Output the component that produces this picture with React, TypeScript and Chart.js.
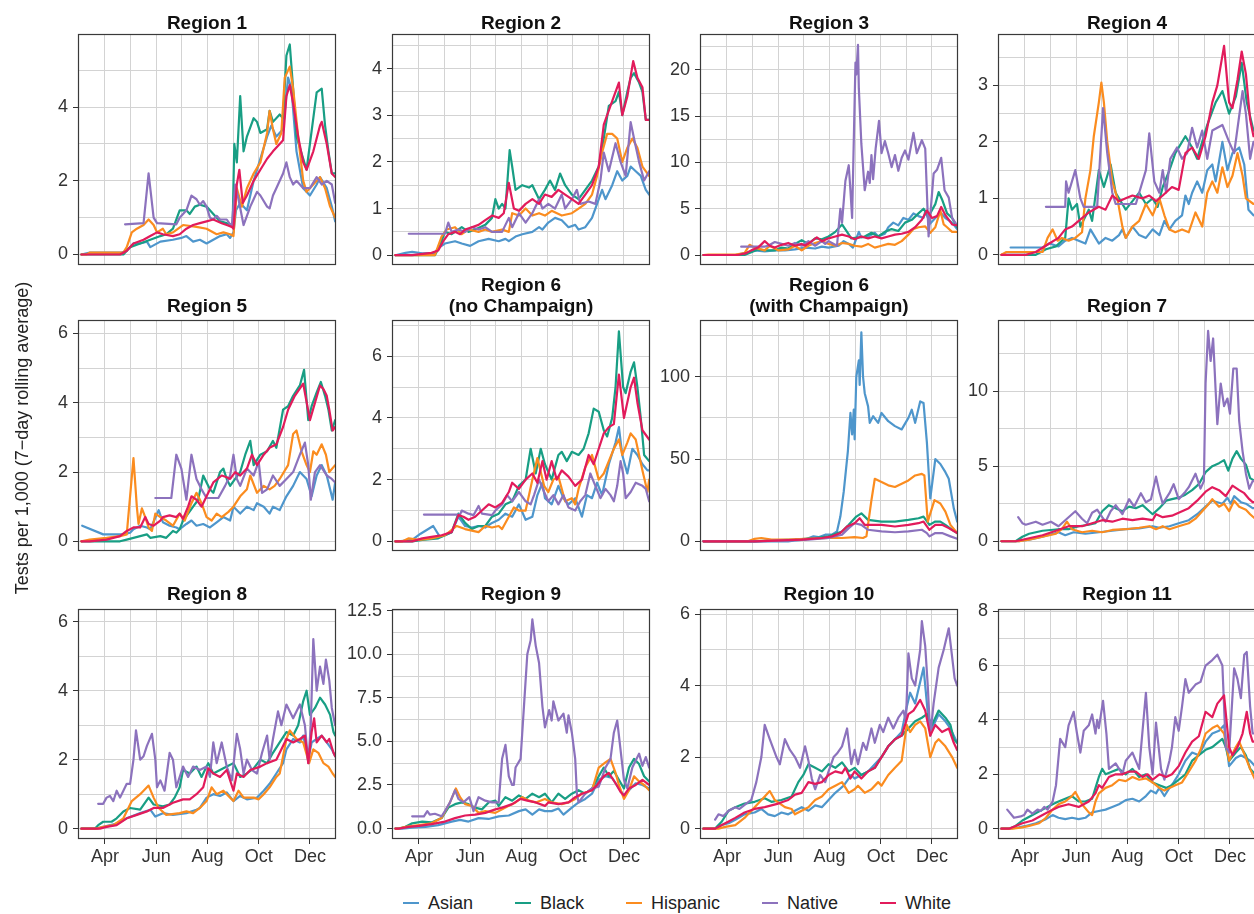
import React, { useEffect, useRef } from "react";
import { Chart, registerables } from "chart.js";
Chart.register(...registerables);

type Pt = [number, number];

// x = day of year 2020 (Jan 1 = 1); y = tests per 1,000 (7-day rolling average)
const monthTicks = [92, 122, 153, 183, 214, 245, 275, 306, 336];
const monthLabels = ["Apr", "", "Jun", "", "Aug", "", "Oct", "", "Dec"];
const seriesNames = ["Asian", "Black", "Hispanic", "Native", "White"];
const seriesColors = ["#4e96cc", "#189e84", "#fb8c1f", "#8c72bd", "#e21b5b"];

// ---------- Region 1 ----------
const r1Asian: Pt[] = [[64,0],[74,0.05],[112,0.05],[118,0.1],[126,0.3],[134,0.3],[142,0.35],[146,0.2],[158,0.35],[173,0.4],[183,0.45],[189,0.5],[197,0.35],[205,0.4],[213,0.3],[221,0.4],[229,0.5],[237,0.55],[241,0.45],[245,0.6],[248,1.2],[253,1.4],[261,1.2],[269,2.0],[277,2.6],[285,3.2],[290,3.5],[296,3.2],[304,3.4],[310,4.8],[314,4.5],[320,2.8],[328,1.8],[336,1.6],[344,1.9],[348,2.1],[356,1.8],[362,1.3],[366,0.9]];
const r1Black: Pt[] = [[64,0],[114,0],[122,0.2],[134,0.3],[146,0.4],[158,0.5],[165,0.55],[173,0.7],[181,1.2],[189,1.2],[193,1.1],[199,1.3],[205,1.35],[213,1.3],[221,1.1],[229,0.9],[237,0.85],[244,0.8],[246,3.0],[249,2.5],[253,4.3],[257,2.8],[261,3.2],[269,3.7],[273,3.6],[277,3.3],[285,3.4],[288,3.9],[292,3.6],[300,3.8],[304,3.7],[308,5.4],[312,5.7],[316,4.5],[320,3.2],[328,2.6],[332,2.3],[336,3.0],[344,4.4],[350,4.5],[354,3.5],[358,2.8],[362,2.2],[366,2.2]];
const r1Hispanic: Pt[] = [[64,0],[70,0],[74,0.05],[114,0.05],[118,0.2],[124,0.6],[130,0.7],[138,0.8],[144,0.95],[150,0.8],[154,0.6],[161,0.7],[165,0.55],[173,0.6],[185,0.8],[201,0.75],[213,0.7],[225,0.55],[233,0.6],[241,0.55],[245,0.5],[249,1.8],[255,1.3],[261,1.8],[269,2.2],[277,2.5],[285,3.3],[288,3.9],[292,3.4],[296,3.0],[302,3.3],[306,4.8],[312,5.1],[316,4.5],[322,3.2],[328,2.0],[332,1.7],[340,1.9],[348,2.1],[354,1.8],[360,1.3],[366,1.0]];
const r1Native: Pt[] = [[116,0.82],[138,0.85],[144,2.2],[150,1.0],[154,0.85],[177,0.82],[181,1.0],[189,1.2],[195,1.6],[201,1.5],[205,1.35],[209,1.45],[213,1.3],[217,1.0],[221,0.95],[225,1.05],[229,0.95],[237,0.95],[243,0.75],[247,1.9],[251,1.5],[257,0.8],[265,1.3],[269,1.5],[273,1.7],[277,1.6],[285,1.3],[288,1.25],[292,1.6],[296,1.8],[304,2.2],[308,2.5],[312,2.1],[316,1.9],[320,2.0],[328,1.8],[336,1.8],[344,2.1],[350,1.9],[356,2.0],[362,1.9],[366,1.4]];
const r1White: Pt[] = [[64,0],[110,0],[118,0.1],[126,0.3],[138,0.4],[146,0.5],[154,0.6],[161,0.55],[173,0.5],[181,0.55],[189,0.7],[197,0.8],[205,0.85],[213,0.9],[221,0.95],[231,0.85],[237,0.8],[243,0.75],[245,0.7],[249,1.9],[252,2.3],[256,1.4],[261,1.6],[269,2.0],[277,2.3],[285,2.6],[292,2.8],[300,3.0],[304,3.1],[308,4.3],[312,4.6],[316,4.1],[322,3.2],[328,2.5],[332,2.3],[340,2.8],[348,3.5],[350,3.6],[356,3.0],[362,2.2],[366,2.1]];

// ---------- Region 2 ----------
const r2Asian: Pt[] = [[64,0],[76,0.05],[84,0.07],[96,0.04],[111,0.05],[115,0.15],[123,0.25],[135,0.3],[143,0.25],[153,0.2],[163,0.3],[175,0.35],[187,0.3],[195,0.35],[199,0.3],[207,0.4],[215,0.45],[227,0.5],[235,0.6],[239,0.55],[246,0.7],[254,0.8],[262,0.75],[270,0.6],[278,0.65],[282,0.55],[290,0.6],[298,0.8],[304,1.1],[310,1.4],[314,1.2],[322,1.5],[328,1.8],[334,1.6],[340,1.7],[344,1.9],[350,1.8],[356,1.7],[362,1.4],[366,1.3]];
const r2Black: Pt[] = [[64,0],[111,0],[117,0.2],[123,0.5],[131,0.45],[143,0.6],[151,0.5],[159,0.55],[171,0.65],[179,0.8],[183,1.2],[187,1.0],[191,1.1],[195,1.0],[200,2.25],[203,1.9],[207,1.4],[215,1.5],[223,1.45],[227,1.5],[235,1.2],[242,1.4],[248,1.6],[254,1.4],[260,1.75],[266,1.5],[274,1.3],[282,1.2],[290,1.4],[298,1.6],[306,1.9],[312,2.5],[318,3.2],[326,3.3],[330,3.5],[334,3.0],[340,3.5],[344,3.8],[348,3.9],[354,3.7],[358,3.5],[362,2.9],[366,2.9]];
const r2Hispanic: Pt[] = [[64,0],[111,0],[119,0.4],[125,0.55],[135,0.6],[143,0.45],[151,0.55],[163,0.5],[171,0.55],[179,0.5],[191,0.55],[199,0.5],[203,0.9],[211,0.85],[219,1.0],[227,0.85],[235,0.9],[242,0.85],[250,0.95],[262,0.85],[274,0.9],[282,1.0],[290,1.1],[298,1.3],[304,1.7],[310,2.2],[316,2.6],[322,2.6],[328,2.5],[334,2.0],[340,2.3],[346,2.5],[352,2.3],[358,1.9],[366,1.7]];
const r2Native: Pt[] = [[80,0.46],[123,0.46],[127,0.7],[131,0.5],[139,0.55],[147,0.5],[155,0.6],[163,0.55],[171,0.6],[179,0.5],[191,0.5],[199,0.8],[203,0.6],[211,0.9],[219,0.7],[227,0.9],[235,1.2],[239,1.0],[246,1.1],[254,1.0],[262,1.3],[266,1.0],[274,1.2],[280,1.4],[284,1.1],[294,1.15],[302,1.1],[308,1.6],[312,2.2],[318,1.8],[326,2.4],[332,2.0],[338,1.7],[344,2.85],[348,2.5],[354,2.0],[360,1.6],[366,1.8]];
const r2White: Pt[] = [[64,0],[84,0],[107,0.05],[115,0.1],[121,0.3],[127,0.45],[135,0.5],[141,0.45],[147,0.55],[155,0.6],[163,0.65],[171,0.75],[179,0.85],[187,0.8],[193,0.9],[199,1.55],[205,1.0],[211,0.95],[219,1.1],[227,1.2],[235,1.1],[242,1.3],[250,1.25],[258,1.4],[266,1.3],[274,1.2],[282,1.1],[290,1.3],[298,1.5],[306,1.9],[312,2.8],[316,3.0],[322,3.3],[330,3.7],[334,3.0],[340,3.4],[347,4.16],[352,3.8],[358,3.6],[362,2.9],[366,2.9]];

// ---------- Region 3 ----------
const r3Asian: Pt[] = [[64,0],[102,0],[113,0.2],[125,0.5],[137,0.4],[149,0.5],[161,0.5],[173,0.6],[185,0.8],[197,0.7],[205,0.9],[213,0.8],[225,1.0],[231,1.5],[237,1.2],[242,0.8],[249,2.5],[252,1.9],[260,2.0],[268,2.4],[272,2.0],[280,2.3],[284,3.0],[290,3.5],[296,3.2],[302,4.0],[308,3.8],[314,4.5],[320,4.2],[326,4.0],[328,4.7],[334,3.4],[340,4.0],[347,4.5],[352,4.0],[360,3.5],[366,2.8]];
const r3Black: Pt[] = [[64,0],[113,0],[121,0.3],[129,0.6],[137,0.5],[149,0.5],[157,0.8],[165,0.7],[173,1.2],[181,1.6],[189,1.2],[197,1.8],[205,1.7],[213,2.0],[221,2.5],[229,3.3],[235,2.5],[240,1.8],[249,1.9],[256,2.0],[264,2.4],[272,2.0],[280,2.5],[288,2.8],[296,2.6],[304,3.5],[312,3.8],[320,4.5],[326,5.0],[332,4.2],[340,5.5],[344,6.8],[348,6.0],[354,4.5],[360,4.0],[366,3.0]];
const r3Hispanic: Pt[] = [[64,0],[70,0.05],[102,0.05],[113,0.2],[119,1.1],[125,0.8],[137,0.5],[143,1.0],[153,0.5],[165,0.6],[173,1.0],[181,0.5],[189,1.0],[197,1.3],[205,1.5],[213,1.2],[221,1.0],[229,1.3],[237,1.2],[244,1.0],[252,0.9],[260,1.2],[268,0.8],[276,1.0],[284,1.2],[292,1.1],[300,1.5],[308,2.2],[314,2.8],[320,3.0],[328,3.1],[334,2.4],[340,3.0],[346,4.8],[350,3.3],[354,3.0],[360,2.5],[366,2.5]];
const r3Native: Pt[] = [[109,0.9],[137,0.9],[141,1.0],[149,1.4],[157,1.2],[165,1.0],[173,1.3],[181,1.0],[189,1.5],[197,1.0],[205,1.5],[209,1.2],[213,1.5],[217,1.3],[223,1.0],[227,5.0],[229,3.5],[233,8.0],[237,9.7],[239,7.0],[241,4.0],[245,20.8],[246,19.5],[248,22.7],[249,18],[252,12],[256,7.0],[260,9.0],[262,7.8],[264,10.8],[266,8.2],[269,11.5],[273,14.5],[276,11],[280,12.3],[284,11.0],[288,9.5],[292,10.8],[296,9.1],[300,10.5],[304,11.3],[308,10.3],[314,13.2],[318,11],[324,12.4],[328,11.5],[332,2.0],[338,8.8],[342,9.2],[347,10.5],[351,7.0],[356,6.2],[360,4.0],[366,3.2]];
const r3White: Pt[] = [[64,0],[105,0],[115,0.2],[121,0.5],[129,0.8],[137,1.5],[143,1.0],[149,0.8],[157,1.1],[165,1.3],[173,1.0],[181,1.2],[185,1.0],[193,1.5],[199,1.9],[205,1.5],[213,1.8],[221,2.0],[229,2.2],[237,2.0],[244,1.7],[252,2.0],[260,1.8],[268,2.0],[276,1.8],[284,2.0],[292,2.2],[300,2.3],[308,2.5],[316,3.0],[324,3.8],[330,4.8],[336,4.0],[342,4.2],[347,5.2],[352,4.3],[360,3.3],[366,3.2]];

// ---------- Region 4 ----------
const r4Asian: Pt[] = [[75,0.13],[113,0.13],[121,0.2],[132,0.15],[140,0.25],[148,0.3],[156,0.25],[164,0.2],[170,0.45],[176,0.3],[180,0.2],[188,0.3],[196,0.25],[204,0.35],[208,0.45],[212,0.3],[220,0.5],[228,0.35],[236,0.3],[244,0.45],[252,0.35],[258,0.6],[264,0.45],[271,0.6],[279,0.7],[283,1.05],[287,0.9],[291,1.1],[297,1.3],[303,1.1],[309,1.5],[315,1.6],[319,1.3],[327,2.0],[333,1.5],[339,1.8],[347,1.9],[353,1.6],[358,0.8],[364,0.7],[366,0.7]];
const r4Black: Pt[] = [[64,0],[105,0],[117,0.1],[129,0.15],[136,0.25],[140,0.3],[144,1.0],[148,0.8],[154,0.9],[158,0.5],[168,0.8],[172,0.6],[180,1.5],[186,1.2],[194,1.6],[200,1.1],[208,0.9],[212,0.8],[220,0.95],[228,1.1],[236,0.9],[244,1.0],[250,0.85],[256,1.2],[264,1.5],[271,1.8],[283,2.1],[291,1.9],[297,1.7],[303,2.0],[309,2.3],[319,2.7],[327,2.9],[335,2.5],[343,2.8],[350,3.4],[356,2.7],[364,2.2],[366,2.2]];
const r4Hispanic: Pt[] = [[64,0],[70,0.05],[113,0.05],[119,0.3],[125,0.45],[131,0.25],[136,0.3],[144,0.25],[152,0.3],[160,0.4],[164,1.0],[170,1.5],[174,2.1],[180,2.7],[183,3.05],[186,2.7],[190,2.0],[196,1.3],[202,1.0],[208,0.5],[212,0.3],[220,0.5],[228,0.6],[236,0.9],[244,0.7],[252,1.0],[258,0.7],[264,0.45],[271,0.4],[279,0.45],[287,0.4],[295,0.75],[303,0.5],[309,1.1],[315,1.3],[321,1.1],[327,1.55],[333,1.2],[339,1.4],[345,1.8],[351,1.4],[355,1.0],[364,0.9],[366,0.9]];
const r4Native: Pt[] = [[117,0.85],[140,0.85],[141,1.3],[144,1.1],[152,1.5],[158,1.0],[162,0.85],[178,0.85],[185,2.6],[190,1.8],[196,1.1],[200,0.9],[224,0.9],[228,1.1],[236,1.5],[240,2.15],[246,1.3],[252,1.1],[256,1.5],[260,1.1],[265,1.7],[273,1.9],[279,1.7],[285,1.8],[291,2.25],[297,1.9],[303,2.2],[309,1.7],[315,2.2],[327,2.3],[335,2.0],[341,1.8],[351,2.9],[355,2.5],[360,1.7],[364,2.0],[366,2.0]];
const r4White: Pt[] = [[64,0],[93,0],[105,0.05],[121,0.2],[132,0.3],[140,0.45],[148,0.5],[156,0.6],[168,0.75],[180,0.85],[188,0.8],[196,1.05],[204,0.95],[212,1.0],[220,1.05],[232,1.0],[240,1.05],[248,0.95],[256,1.05],[267,1.2],[275,1.15],[283,1.8],[291,1.9],[299,1.7],[307,2.1],[315,2.7],[321,3.0],[329,3.7],[335,2.7],[339,2.6],[345,3.1],[350,3.6],[355,3.2],[360,2.4],[364,2.1],[366,2.1]];

// ---------- Region 5 ----------
const r5Asian: Pt[] = [[65,0.45],[90,0.2],[114,0.2],[122,0.25],[126,0.35],[134,0.45],[142,0.4],[146,0.35],[156,0.9],[161,0.55],[169,0.45],[177,0.4],[181,0.35],[189,0.5],[195,0.6],[201,0.45],[209,0.5],[217,0.4],[225,0.55],[233,0.7],[241,0.6],[245,1.0],[253,0.8],[261,1.0],[269,0.9],[273,1.1],[281,1.0],[288,0.8],[292,1.0],[300,0.9],[308,1.3],[316,1.6],[324,2.0],[332,1.8],[338,1.3],[344,1.9],[350,2.2],[356,1.9],[360,1.5],[363,1.2],[366,1.7]];
const r5Black: Pt[] = [[64,0],[110,0],[118,0.05],[126,0.1],[134,0.15],[142,0.2],[146,0.1],[158,0.15],[165,0.1],[173,0.3],[177,0.25],[181,0.35],[185,0.6],[191,0.8],[197,1.0],[203,1.2],[209,1.9],[213,1.7],[217,1.5],[221,1.4],[229,2.0],[233,2.1],[237,1.8],[241,1.6],[247,1.8],[253,2.0],[259,2.5],[265,2.9],[269,2.2],[277,2.5],[285,2.6],[292,2.9],[296,2.7],[304,3.8],[310,3.9],[316,4.2],[324,4.5],[329,4.95],[334,3.5],[338,3.9],[344,4.3],[349,4.6],[354,4.2],[358,3.8],[362,3.2],[366,3.5]];
const r5Hispanic: Pt[] = [[64,0],[74,0.05],[94,0.1],[110,0.15],[118,0.2],[126,2.4],[130,1.0],[132,0.5],[136,0.95],[140,0.7],[144,0.4],[148,0.3],[152,0.8],[158,0.7],[165,0.6],[173,0.45],[181,0.8],[187,0.6],[195,1.1],[201,1.4],[207,1.1],[213,0.7],[219,0.6],[225,0.8],[231,0.7],[239,0.85],[245,1.0],[253,1.3],[261,1.5],[265,1.9],[273,1.4],[281,1.6],[288,1.5],[294,1.6],[300,1.8],[310,2.2],[316,3.1],[320,3.2],[326,2.6],[332,2.2],[336,2.0],[340,2.6],[344,2.5],[350,2.8],[355,2.5],[359,2.0],[366,2.2]];
const r5Native: Pt[] = [[152,1.25],[171,1.25],[177,2.5],[183,2.1],[189,1.2],[195,2.5],[201,1.8],[207,1.5],[213,1.25],[227,1.25],[235,1.6],[241,1.9],[245,2.5],[249,1.8],[253,1.6],[261,2.1],[269,1.9],[275,2.3],[279,1.4],[285,1.5],[292,1.9],[300,1.6],[308,1.8],[316,2.0],[324,2.5],[330,2.85],[334,2.2],[337,1.2],[342,2.0],[348,2.2],[356,1.9],[362,1.8],[366,1.7]];
const r5White: Pt[] = [[64,0],[74,0],[94,0.05],[110,0.15],[118,0.3],[126,0.4],[134,0.4],[140,0.7],[144,0.5],[150,0.45],[158,0.6],[161,0.7],[169,0.75],[177,0.7],[181,0.8],[185,0.65],[191,1.0],[195,1.3],[201,1.2],[207,1.0],[213,1.3],[221,1.7],[231,1.9],[237,1.85],[241,1.8],[247,2.0],[253,1.9],[261,2.1],[267,2.5],[273,2.2],[281,2.5],[288,2.7],[296,2.8],[304,3.3],[310,3.8],[318,4.2],[328,4.55],[336,3.5],[342,4.0],[348,4.5],[352,4.4],[356,4.2],[359,3.8],[363,3.2],[366,3.3]];

// ---------- Region 6 (no Champaign) ----------
const r6nAsian: Pt[] = [[64,0],[68,0],[84,0.05],[94,0.25],[109,0.5],[117,0.15],[123,0.2],[131,0.3],[139,0.8],[147,0.5],[155,0.45],[163,0.5],[171,0.45],[179,0.6],[187,0.7],[195,0.9],[203,0.8],[211,1.2],[219,0.7],[227,0.8],[233,1.5],[239,1.9],[242,1.4],[250,1.2],[258,1.8],[264,1.4],[270,1.2],[278,1.4],[282,1.1],[286,0.8],[292,1.5],[298,1.4],[304,1.9],[310,1.5],[318,2.5],[326,3.2],[330,3.7],[334,2.8],[340,2.2],[346,3.0],[352,2.8],[358,2.5],[364,2.3],[366,2.3]];
const r6nBlack: Pt[] = [[64,0],[84,0],[96,0.05],[115,0.1],[131,0.3],[139,0.9],[147,0.6],[155,0.4],[163,0.5],[171,0.5],[179,0.8],[187,0.9],[195,1.2],[203,1.3],[211,1.8],[219,2.0],[225,3.0],[231,2.2],[237,3.0],[242,2.5],[250,2.0],[258,2.8],[262,2.9],[268,2.6],[274,2.9],[282,2.8],[288,3.0],[294,3.5],[300,4.3],[306,4.2],[312,3.6],[316,3.4],[322,4.0],[326,5.0],[330,6.8],[335,5.0],[338,4.8],[344,5.5],[348,5.8],[352,5.0],[356,4.0],[360,2.8],[366,2.6]];
const r6nHispanic: Pt[] = [[64,0],[72,0],[80,0.1],[92,0.05],[107,0.1],[123,0.2],[137,0.5],[147,0.4],[163,0.3],[171,0.5],[179,0.45],[187,0.5],[191,0.4],[199,0.8],[205,1.1],[211,1.0],[219,1.0],[227,2.0],[233,2.7],[241,1.8],[246,1.6],[252,2.0],[258,2.1],[266,1.3],[274,1.4],[278,1.2],[282,1.7],[290,2.4],[298,2.8],[306,2.0],[312,2.2],[318,2.6],[324,3.0],[330,3.3],[334,2.8],[340,3.2],[344,3.5],[350,3.3],[354,2.8],[358,2.3],[364,1.6],[366,2.0]];
const r6nNative: Pt[] = [[98,0.87],[141,0.87],[143,1.0],[151,0.9],[157,0.85],[163,1.15],[167,0.9],[179,0.85],[183,1.0],[191,1.2],[197,1.5],[203,1.3],[211,1.6],[219,1.3],[225,1.2],[229,1.5],[235,2.0],[241,1.6],[246,1.3],[252,1.5],[258,1.2],[264,1.5],[270,1.1],[278,1.0],[284,1.3],[290,1.5],[296,2.2],[302,1.8],[308,1.4],[314,1.7],[320,1.5],[324,1.3],[328,1.8],[332,2.6],[335,2.2],[338,1.4],[344,1.6],[350,1.9],[358,1.8],[362,1.7],[366,1.3]];
const r6nWhite: Pt[] = [[64,0],[84,0],[96,0.1],[107,0.15],[119,0.2],[131,0.3],[139,0.85],[145,0.8],[151,0.7],[159,0.8],[167,1.0],[175,1.2],[183,1.1],[191,1.25],[199,1.6],[203,1.9],[211,1.7],[219,2.0],[227,2.2],[233,1.9],[239,2.6],[244,2.0],[250,2.6],[256,2.0],[262,2.3],[270,2.1],[278,1.8],[286,2.0],[294,2.8],[300,2.5],[306,3.0],[312,3.5],[318,3.7],[324,3.8],[330,5.4],[336,4.0],[340,4.5],[344,5.0],[348,5.3],[352,4.5],[358,3.6],[366,3.3]];

// ---------- Region 6 (with Champaign) ----------
const r6wAsian: Pt[] = [[64,0],[165,0],[173,0.5],[185,1],[195,3],[201,2.5],[209,4],[217,4],[223,6],[227,15],[231,30],[236,55],[239,78],[241,65],[243,80],[244,62],[246,100],[249,110],[250,95],[252,127],[254,100],[256,90],[260,82],[262,72],[266,76],[272,72],[276,78],[284,73],[292,70],[300,68],[308,75],[312,80],[316,72],[322,85],[326,84],[330,60],[334,26],[340,50],[346,47],[352,42],[356,38],[362,20],[366,12]];
const r6wBlack: Pt[] = [[64,0],[125,0],[145,0.5],[173,1],[197,2],[213,3],[229,6],[237,10],[246,15],[252,17],[260,13],[276,12],[292,12],[308,13],[320,14],[326,15],[333,10],[340,12],[346,12],[352,10],[360,7],[366,5]];
const r6wHispanic: Pt[] = [[64,0],[117,0],[125,1.5],[133,2],[145,1],[165,1],[185,1.5],[213,2],[229,2],[244,2.5],[254,2],[258,3],[264,25],[268,38],[276,36],[284,34],[292,33],[300,35],[308,37],[316,40],[324,41],[327,40],[331,12],[339,25],[346,23],[352,18],[358,10],[366,5]];
const r6wNative: Pt[] = [[64,0],[125,0],[165,0.5],[189,1],[213,2],[229,4],[237,8],[244,11],[252,10],[260,7],[276,6],[292,5.5],[308,6],[324,7],[330,5],[333,3],[340,5],[348,5],[358,3],[366,1.5]];
const r6wWhite: Pt[] = [[64,0],[125,0],[157,0.5],[181,1],[205,2],[217,3],[227,5],[235,9],[244,11],[250,14],[256,10],[276,10],[292,9],[308,10],[320,11],[326,12],[333,7],[340,10],[348,10],[356,8],[366,5]];

// ---------- Region 7 ----------
const r7Asian: Pt[] = [[64,0],[85,0],[97,0.1],[113,0.3],[132,0.6],[140,0.4],[150,0.6],[164,0.5],[180,0.6],[196,0.7],[212,0.8],[228,0.85],[244,1.0],[252,0.9],[264,1.0],[275,1.2],[287,1.4],[297,1.8],[307,2.3],[315,2.7],[327,2.5],[333,2.9],[337,2.5],[341,3.0],[349,2.6],[355,2.5],[363,2.2],[366,2.2]];
const r7Black: Pt[] = [[64,0],[81,0],[89,0.3],[97,0.5],[113,0.7],[132,0.8],[144,0.8],[156,1.0],[168,1.1],[176,1.2],[184,2.0],[192,2.4],[200,2.2],[208,2.0],[216,2.3],[224,2.2],[232,2.4],[240,2.0],[244,1.8],[252,2.2],[260,2.7],[267,2.8],[275,2.9],[283,3.1],[291,3.4],[299,3.8],[307,4.6],[315,5.0],[323,5.2],[329,5.4],[334,4.7],[339,5.5],[344,6.0],[349,5.5],[355,5.1],[360,4.2],[366,4.0]];
const r7Hispanic: Pt[] = [[64,0],[85,0],[97,0.1],[113,0.3],[129,0.5],[136,0.8],[142,1.3],[148,0.8],[160,0.6],[172,0.7],[184,0.6],[196,0.75],[212,0.8],[228,0.9],[240,1.0],[248,0.8],[256,1.0],[264,0.8],[275,1.0],[287,1.2],[295,1.5],[303,2.0],[311,2.5],[315,2.8],[323,2.3],[329,2.5],[335,2.0],[341,2.7],[347,2.3],[355,2.1],[360,1.8],[366,1.5]];
const r7Native: Pt[] = [[84,1.6],[89,1.2],[93,1.1],[105,1.3],[113,1.1],[123,1.3],[132,1.0],[140,1.4],[146,1.7],[152,2.0],[160,1.5],[166,1.2],[172,1.9],[178,2.1],[184,1.6],[188,1.3],[194,2.0],[200,2.4],[208,1.8],[216,2.8],[222,2.3],[230,3.2],[236,2.6],[242,2.8],[248,4.3],[252,3.3],[256,2.5],[264,3.2],[269,3.8],[275,2.8],[283,3.3],[287,3.6],[295,4.5],[301,3.5],[305,4.0],[307,10.5],[310,14],[313,12],[316,13.5],[319,10],[321,7.8],[325,10.5],[329,9],[333,9.5],[336,8.5],[340,11.5],[344,11.5],[347,8],[351,6],[355,4.5],[359,3.5],[363,4.0],[366,4.0]];
const r7White: Pt[] = [[64,0],[81,0],[97,0.2],[113,0.4],[129,0.7],[144,1.0],[160,1.0],[172,1.2],[184,1.4],[196,1.3],[208,1.5],[220,1.4],[232,1.5],[244,1.4],[248,1.8],[256,1.6],[267,1.7],[275,1.9],[287,2.2],[297,2.7],[307,3.3],[315,3.6],[323,3.4],[331,3.0],[339,3.7],[347,3.4],[353,3.2],[359,2.8],[363,2.6],[366,2.6]];

// ---------- Region 8 ----------
const r8Asian: Pt[] = [[64,0],[82,0],[90,0.05],[106,0.15],[118,0.3],[134,0.45],[146,0.55],[152,0.35],[161,0.45],[173,0.4],[189,0.45],[201,0.55],[205,0.6],[213,0.9],[221,1.0],[229,0.95],[237,1.05],[245,0.8],[253,0.95],[261,0.85],[273,0.9],[281,1.1],[288,1.3],[296,1.6],[304,1.9],[308,2.3],[316,2.6],[324,2.5],[328,2.7],[334,2.0],[338,2.5],[344,2.6],[350,2.7],[356,2.5],[362,2.3],[366,2.1]];
const r8Black: Pt[] = [[64,0],[80,0],[84,0.1],[90,0.2],[100,0.2],[106,0.3],[114,0.5],[122,0.6],[134,0.55],[144,0.9],[150,0.7],[161,0.65],[169,0.7],[175,0.9],[181,1.2],[185,1.7],[193,1.6],[201,1.8],[207,1.5],[215,1.9],[221,1.6],[229,1.7],[237,1.8],[245,1.9],[253,1.5],[261,1.6],[269,1.75],[277,2.0],[285,1.9],[292,2.2],[300,2.5],[308,2.8],[316,2.7],[322,3.0],[328,3.7],[332,4.0],[336,3.3],[342,3.5],[348,3.8],[354,3.6],[360,3.3],[364,2.8],[366,2.7]];
const r8Hispanic: Pt[] = [[64,0],[82,0],[90,0.05],[102,0.1],[114,0.3],[124,0.8],[134,1.0],[144,1.25],[150,0.9],[156,0.6],[165,0.4],[181,0.45],[189,0.5],[197,0.45],[205,0.6],[213,0.8],[219,1.2],[225,1.0],[233,1.1],[241,0.9],[245,0.8],[251,1.1],[257,0.9],[269,0.9],[275,0.85],[281,1.0],[288,1.2],[296,1.5],[300,1.6],[308,2.6],[312,2.85],[320,2.6],[328,2.5],[335,1.9],[340,2.3],[346,2.2],[352,1.9],[358,1.8],[363,1.6],[366,1.5]];
const r8Native: Pt[] = [[84,0.72],[90,0.72],[94,0.9],[98,0.95],[102,0.8],[106,1.1],[110,0.9],[114,1.1],[118,1.3],[122,1.3],[126,2.0],[129,2.85],[134,2.0],[138,2.1],[142,2.4],[148,2.75],[152,2.0],[154,1.2],[158,1.4],[163,1.1],[169,2.2],[173,2.0],[177,1.2],[185,1.8],[191,1.5],[197,1.8],[205,1.7],[213,1.8],[217,1.5],[221,2.5],[225,1.9],[231,2.5],[237,1.8],[243,1.4],[249,2.75],[253,2.3],[257,1.6],[261,2.0],[267,1.7],[273,1.6],[279,2.2],[285,2.7],[288,2.0],[292,2.6],[298,3.4],[302,3.0],[308,3.6],[316,3.2],[324,3.6],[330,3.0],[334,1.9],[337,3.0],[340,5.5],[344,4.0],[348,4.7],[352,4.2],[355,4.9],[359,4.3],[362,3.5],[366,3.0]];
const r8White: Pt[] = [[64,0],[86,0],[94,0.05],[106,0.1],[118,0.3],[130,0.4],[142,0.5],[150,0.6],[161,0.6],[173,0.75],[185,0.85],[193,0.85],[201,1.0],[209,1.2],[215,1.75],[221,1.6],[229,1.5],[237,1.7],[245,1.1],[249,1.6],[257,1.5],[265,1.7],[277,1.8],[285,1.9],[296,2.0],[308,2.6],[316,2.5],[324,2.6],[330,2.7],[334,1.9],[338,2.8],[341,3.2],[344,2.5],[350,2.7],[356,2.5],[359,2.6],[364,2.2],[366,2.1]];

// ---------- Region 9 ----------
const r9Asian: Pt[] = [[64,0],[72,0],[84,0.05],[100,0.1],[115,0.2],[131,0.4],[141,0.5],[151,0.4],[163,0.6],[175,0.55],[187,0.7],[199,0.75],[211,1.0],[219,1.1],[227,0.8],[235,1.1],[242,1.0],[250,1.0],[258,1.15],[264,0.8],[274,1.2],[282,1.5],[290,1.7],[298,2.0],[306,2.8],[314,3.0],[322,2.9],[330,2.3],[336,1.9],[342,2.2],[350,2.6],[358,2.5],[366,2.3]];
const r9Black: Pt[] = [[64,0],[68,0],[76,0.1],[84,0.3],[96,0.4],[107,0.35],[119,0.6],[127,1.2],[135,1.4],[143,1.5],[151,1.4],[159,1.2],[167,1.1],[175,1.5],[183,1.6],[187,1.3],[195,1.8],[203,1.6],[211,1.9],[219,1.7],[227,2.0],[235,1.8],[242,2.0],[250,1.5],[258,2.0],[266,1.7],[274,2.0],[282,2.2],[290,2.0],[298,2.3],[306,3.0],[312,3.5],[318,3.0],[324,3.3],[330,2.8],[336,2.3],[342,3.5],[348,4.0],[354,3.7],[360,3.0],[366,2.7]];
const r9Hispanic: Pt[] = [[64,0],[68,0],[76,0.1],[92,0.2],[107,0.3],[119,0.6],[129,1.5],[136,2.3],[141,1.8],[147,1.4],[155,1.3],[163,0.9],[171,1.0],[183,0.9],[191,1.1],[199,1.3],[207,1.5],[215,1.8],[223,1.6],[231,1.5],[242,1.7],[250,1.5],[262,1.4],[270,1.5],[278,1.7],[286,2.0],[298,2.2],[306,3.5],[314,3.8],[320,4.0],[326,3.2],[330,2.5],[336,1.7],[342,2.2],[348,3.0],[354,2.7],[360,2.5],[366,2.2]];
const r9Native: Pt[] = [[84,0.7],[98,0.7],[102,1.0],[105,0.8],[111,0.85],[119,0.7],[123,1.0],[129,1.5],[135,2.2],[139,1.7],[145,1.5],[152,1.8],[157,1.0],[163,1.8],[171,1.6],[179,1.5],[187,1.5],[191,4.0],[195,4.8],[199,3.0],[203,2.5],[205,2.5],[207,3.5],[213,4.0],[217,7.0],[221,10],[225,10.8],[227,12],[231,10.5],[235,9.5],[239,7.0],[242,5.8],[247,6.8],[250,6.2],[252,7.3],[258,6.2],[264,6.6],[268,5.5],[270,6.5],[274,5.5],[278,4.0],[280,2.0],[282,1.5],[290,2.0],[298,2.3],[306,2.4],[314,3.5],[320,4.0],[324,5.5],[328,6.2],[332,4.5],[336,2.8],[340,2.3],[346,3.5],[350,3.9],[354,4.3],[358,3.6],[362,4.1],[366,3.5]];
const r9White: Pt[] = [[64,0],[68,0],[80,0.1],[92,0.15],[107,0.25],[123,0.4],[135,0.6],[147,0.75],[159,0.8],[171,0.9],[183,1.1],[191,1.2],[203,1.4],[213,1.7],[221,1.6],[231,1.5],[242,1.3],[246,1.5],[258,1.4],[270,1.5],[278,1.8],[286,2.0],[298,2.2],[304,2.5],[312,3.0],[318,3.2],[326,2.6],[332,2.1],[336,1.9],[342,2.3],[350,2.5],[358,2.8],[366,2.5]];

// ---------- Region 10 ----------
const r10Asian: Pt[] = [[64,0],[78,0],[86,0.1],[94,0.15],[102,0.25],[113,0.4],[125,0.45],[133,0.55],[141,0.4],[149,0.35],[157,0.45],[165,0.4],[173,0.5],[181,0.6],[189,0.5],[197,0.65],[205,0.6],[213,0.8],[221,1.0],[231,1.2],[240,1.5],[244,1.4],[252,1.5],[260,1.6],[268,1.8],[276,2.0],[284,2.3],[292,2.5],[300,2.7],[306,3.4],[310,3.8],[316,3.5],[322,4.1],[326,4.5],[332,3.0],[336,2.8],[344,3.2],[352,3.0],[358,2.8],[366,2.4]];
const r10Black: Pt[] = [[64,0],[78,0],[86,0.2],[94,0.5],[102,0.6],[113,0.7],[125,0.75],[137,0.85],[145,0.75],[157,0.8],[169,0.9],[177,1.3],[183,1.5],[189,1.8],[197,1.7],[205,1.6],[213,1.8],[221,1.7],[229,1.85],[237,1.6],[244,1.7],[252,1.5],[260,1.6],[268,1.7],[276,2.0],[284,2.3],[292,2.5],[300,2.6],[308,2.8],[316,3.0],[324,3.1],[330,3.2],[336,2.9],[344,3.3],[352,3.1],[358,2.9],[362,2.5],[366,2.4]];
const r10Hispanic: Pt[] = [[64,0],[82,0],[90,0.05],[102,0.1],[113,0.3],[125,0.6],[137,0.9],[143,1.05],[149,0.8],[161,0.6],[169,0.55],[173,0.4],[181,0.5],[189,0.6],[197,0.8],[205,0.9],[213,1.1],[221,1.2],[229,1.3],[237,1.0],[244,1.1],[248,1.2],[256,1.0],[264,1.1],[272,1.3],[276,1.2],[284,1.5],[292,1.7],[300,1.9],[306,2.9],[310,2.7],[316,2.9],[322,3.0],[328,2.8],[334,2.0],[340,2.4],[344,2.5],[352,2.3],[360,2.0],[366,1.7]];
const r10Native: Pt[] = [[78,0.25],[82,0.4],[88,0.35],[94,0.5],[102,0.6],[107,0.55],[115,0.7],[121,0.8],[127,1.3],[133,2.0],[137,2.9],[143,2.5],[151,2.0],[155,1.8],[161,2.5],[167,2.2],[173,2.0],[179,1.7],[185,2.3],[189,1.9],[193,1.4],[197,1.1],[203,1.5],[209,1.3],[213,1.6],[219,2.0],[223,2.1],[229,2.3],[235,2.8],[240,1.8],[244,2.2],[248,1.8],[254,2.4],[258,2.2],[264,2.8],[268,2.4],[274,2.9],[278,2.7],[284,3.1],[290,2.8],[296,3.1],[302,3.3],[305,3.0],[308,4.9],[312,4.2],[316,4.0],[322,5.0],[324,5.8],[328,5.1],[331,4.0],[334,2.6],[338,3.5],[344,4.5],[350,5.0],[356,5.6],[360,4.8],[363,4.2],[366,4.0]];
const r10White: Pt[] = [[64,0],[78,0],[86,0.1],[94,0.2],[102,0.3],[113,0.45],[125,0.55],[137,0.6],[145,0.65],[153,0.7],[165,0.8],[173,0.95],[181,1.0],[189,1.3],[197,1.25],[205,1.3],[213,1.5],[221,1.6],[229,1.55],[233,1.7],[239,1.4],[244,1.6],[252,1.4],[260,1.6],[268,1.7],[276,2.0],[284,2.3],[292,2.5],[300,2.6],[308,3.2],[314,3.3],[322,3.6],[328,3.3],[334,2.6],[340,2.9],[348,2.7],[356,2.8],[362,2.4],[366,2.2]];

// ---------- Region 11 ----------
const r11Asian: Pt[] = [[64,0],[73,0],[85,0.05],[93,0.1],[105,0.2],[117,0.35],[125,0.5],[132,0.4],[140,0.35],[148,0.4],[156,0.35],[164,0.4],[172,0.6],[180,0.65],[188,0.7],[196,0.8],[204,0.9],[212,1.05],[220,1.1],[228,1.0],[236,1.2],[242,1.4],[248,1.3],[252,1.5],[258,1.2],[264,1.5],[269,1.7],[275,2.0],[283,2.5],[291,2.8],[299,2.7],[307,3.2],[315,3.5],[323,3.6],[329,3.8],[335,2.3],[343,2.6],[349,2.7],[355,2.6],[360,2.5],[366,2.3]];
const r11Black: Pt[] = [[64,0],[73,0],[81,0.1],[89,0.3],[101,0.5],[113,0.7],[125,0.9],[132,1.0],[140,1.1],[148,1.2],[156,1.0],[164,1.0],[172,1.1],[176,1.5],[180,1.9],[184,2.2],[188,2.0],[196,2.1],[204,2.2],[212,2.0],[220,2.2],[228,1.9],[236,2.0],[244,1.7],[252,1.6],[260,1.5],[267,1.6],[275,1.8],[283,2.0],[291,2.5],[299,2.7],[307,2.9],[315,3.0],[327,3.3],[331,3.0],[335,2.5],[343,2.8],[349,3.0],[355,2.7],[360,2.2],[366,2.0]];
const r11Hispanic: Pt[] = [[64,0],[77,0],[89,0.05],[97,0.1],[109,0.2],[117,0.4],[125,0.7],[132,0.9],[140,1.0],[148,1.2],[152,1.35],[160,0.9],[168,0.6],[172,0.5],[176,1.0],[180,1.3],[188,1.5],[196,1.6],[204,1.8],[212,1.75],[220,1.9],[228,1.8],[236,1.85],[244,1.7],[252,1.5],[258,1.4],[264,1.5],[271,1.6],[279,1.7],[287,2.1],[295,2.5],[301,2.9],[307,3.5],[315,3.7],[321,3.8],[329,3.5],[335,2.5],[343,3.0],[347,3.2],[355,2.6],[360,2.2],[366,1.8]];
const r11Native: Pt[] = [[71,0.7],[79,0.4],[87,0.45],[91,0.5],[95,0.7],[101,0.55],[107,0.7],[111,0.65],[115,0.8],[119,0.7],[125,1.0],[129,1.6],[134,3.3],[140,3.0],[144,3.8],[150,4.3],[154,3.5],[158,2.8],[162,3.6],[168,3.8],[172,4.2],[176,3.5],[178,4.0],[180,3.7],[185,4.7],[189,3.5],[192,2.2],[200,2.4],[208,2.0],[212,2.5],[220,2.8],[228,2.2],[236,5.0],[240,3.0],[244,2.0],[248,3.9],[254,2.2],[258,1.8],[264,2.5],[267,3.0],[271,4.1],[275,3.6],[279,4.5],[283,5.5],[287,5.0],[295,5.3],[301,5.4],[307,6.0],[315,6.2],[321,6.4],[327,6.0],[331,3.0],[335,2.8],[341,5.9],[345,5.5],[349,4.8],[353,6.4],[356,6.5],[360,4.5],[363,3.5],[366,3.5]];
const r11White: Pt[] = [[64,0],[73,0],[81,0.1],[89,0.2],[101,0.3],[113,0.5],[125,0.7],[132,0.8],[144,0.9],[156,0.8],[168,1.0],[176,1.3],[180,1.6],[184,1.5],[192,1.9],[200,2.0],[208,2.0],[216,2.1],[224,2.1],[232,1.9],[238,2.0],[244,1.8],[252,2.0],[260,1.9],[267,2.0],[275,2.3],[283,2.8],[291,3.2],[299,3.4],[307,4.3],[315,4.1],[321,4.6],[329,4.9],[335,3.0],[339,2.7],[345,3.0],[351,3.5],[356,4.3],[360,3.5],[363,3.2],[366,3.2]];

interface PanelDef {
  title: string[];
  data: Pt[][];
  yMin: number;
  yMax: number;
  major: number[];
  minor: number[];
  dec: number;
  col: number;
  row: number;
}

const panels: PanelDef[] = [
  { title: ["Region 1"], data: [r1Asian, r1Black, r1Hispanic, r1Native, r1White], yMin: -0.285, yMax: 5.985, major: [0, 2, 4], minor: [1, 3, 5], dec: 0, col: 0, row: 0 },
  { title: ["Region 2"], data: [r2Asian, r2Black, r2Hispanic, r2Native, r2White], yMin: -0.21, yMax: 4.74, major: [0, 1, 2, 3, 4], minor: [0.5, 1.5, 2.5, 3.5, 4.5], dec: 0, col: 1, row: 0 },
  { title: ["Region 3"], data: [r3Asian, r3Black, r3Hispanic, r3Native, r3White], yMin: -1.08, yMax: 23.88, major: [0, 5, 10, 15, 20], minor: [2.5, 7.5, 12.5, 17.5, 22.5], dec: 0, col: 2, row: 0 },
  { title: ["Region 4"], data: [r4Asian, r4Black, r4Hispanic, r4Native, r4White], yMin: -0.18, yMax: 3.91, major: [0, 1, 2, 3], minor: [0.5, 1.5, 2.5, 3.5], dec: 0, col: 3, row: 0 },
  { title: ["Region 5"], data: [r5Asian, r5Black, r5Hispanic, r5Native, r5White], yMin: -0.28, yMax: 6.39, major: [0, 2, 4, 6], minor: [1, 3, 5], dec: 0, col: 0, row: 1 },
  { title: ["Region 6", "(no Champaign)"], data: [r6nAsian, r6nBlack, r6nHispanic, r6nNative, r6nWhite], yMin: -0.31, yMax: 7.17, major: [0, 2, 4, 6], minor: [1, 3, 5, 7], dec: 0, col: 1, row: 1 },
  { title: ["Region 6", "(with Champaign)"], data: [r6wAsian, r6wBlack, r6wHispanic, r6wNative, r6wWhite], yMin: -5.9, yMax: 134.5, major: [0, 50, 100], minor: [25, 75, 125], dec: 0, col: 2, row: 1 },
  { title: ["Region 7"], data: [r7Asian, r7Black, r7Hispanic, r7Native, r7White], yMin: -0.65, yMax: 14.73, major: [0, 5, 10], minor: [2.5, 7.5, 12.5], dec: 0, col: 3, row: 1 },
  { title: ["Region 8"], data: [r8Asian, r8Black, r8Hispanic, r8Native, r8White], yMin: -0.3, yMax: 6.37, major: [0, 2, 4, 6], minor: [1, 3, 5], dec: 0, col: 0, row: 2 },
  { title: ["Region 9"], data: [r9Asian, r9Black, r9Hispanic, r9Native, r9White], yMin: -0.6, yMax: 12.6, major: [0, 2.5, 5, 7.5, 10, 12.5], minor: [1.25, 3.75, 6.25, 8.75, 11.25], dec: 1, col: 1, row: 2 },
  { title: ["Region 10"], data: [r10Asian, r10Black, r10Hispanic, r10Native, r10White], yMin: -0.29, yMax: 6.14, major: [0, 2, 4, 6], minor: [1, 3, 5], dec: 0, col: 2, row: 2 },
  { title: ["Region 11"], data: [r11Asian, r11Black, r11Hispanic, r11Native, r11White], yMin: -0.38, yMax: 8.08, major: [0, 2, 4, 6, 8], minor: [1, 3, 5, 7], dec: 0, col: 3, row: 2 },
];

// ---------- layout ----------
const FONT = "'Liberation Sans', Arial, Helvetica, sans-serif";
const COL_LEFT = [78, 392, 700, 998];
const PLOT_W = 258;
const ROW_TOP = [34, 320, 609];
const ROW_BOTTOM = [265, 551, 839];
const TITLE_BASELINES_1 = [29.5, 311.7, 600];
const AXW = 60;
const PADT = 12;
const PADR = 4;
const PADB = 2;
const GRID = "#d3d3d3";
const INK = "#333333";

const borderPlugin = {
  id: "panelBorder",
  afterDatasetsDraw(chart: any) {
    const { ctx, chartArea: a } = chart;
    ctx.save();
    ctx.strokeStyle = "#3a3a3a";
    ctx.lineWidth = 1.2;
    ctx.strokeRect(Math.round(a.left) + 0.5, Math.round(a.top) + 0.5, Math.round(a.right - a.left) - 1, Math.round(a.bottom - a.top) - 1);
    ctx.restore();
  },
};

function Panel({ p }: { p: PanelDef }) {
  const ref = useRef<HTMLCanvasElement>(null);
  const plotLeft = COL_LEFT[p.col];
  const plotTop = ROW_TOP[p.row];
  const plotH = ROW_BOTTOM[p.row] - plotTop;
  const isBottom = p.row === 2;
  const XAH = isBottom ? 30 : 0;
  const w = AXW + PLOT_W + PADR;
  const h = PADT + plotH + XAH + PADB;

  useEffect(() => {
    const yVals = [...p.major, ...p.minor].sort((a, b) => a - b);
    const isMajor = (v: number) => p.major.some((m) => Math.abs(m - v) < 1e-9);
    const chart = new Chart(ref.current as HTMLCanvasElement, {
      type: "line",
      data: {
        datasets: p.data.map((s, i) => ({
          label: seriesNames[i],
          data: s.map(([x, y]) => ({ x, y })),
          borderColor: seriesColors[i],
          backgroundColor: seriesColors[i],
          borderWidth: 2.2,
          borderJoinStyle: "round",
          borderCapStyle: "round",
          pointRadius: 0,
          tension: 0,
          fill: false,
          order: 4 - i,
        })),
      },
      options: {
        responsive: false,
        animation: false,
        events: [],
        layout: { padding: { top: PADT, right: PADR, bottom: PADB, left: 0 } },
        plugins: { legend: { display: false }, tooltip: { enabled: false }, title: { display: false } },
        scales: {
          x: {
            type: "linear",
            min: 60,
            max: 367,
            afterBuildTicks: (ax: any) => {
              ax.ticks = monthTicks.map((v) => ({ value: v }));
            },
            afterFit: (ax: any) => {
              ax.height = XAH;
              ax.paddingLeft = 0;
              ax.paddingRight = 0;
            },
            ticks: {
              display: isBottom,
              autoSkip: false,
              maxRotation: 0,
              padding: 2,
              color: INK,
              font: { family: FONT, size: 18 },
              callback: (_v: any, i: number) => monthLabels[i] || "",
            },
            grid: {
              color: GRID,
              lineWidth: 1,
              drawTicks: isBottom,
              tickLength: 5,
              tickWidth: 1,
              tickColor: (c: any) => (c.tick && monthLabels[monthTicks.indexOf(c.tick.value)] ? INK : "rgba(0,0,0,0)"),
            },
            border: { display: false },
          },
          y: {
            type: "linear",
            min: p.yMin,
            max: p.yMax,
            afterBuildTicks: (ax: any) => {
              ax.ticks = yVals.map((v) => ({ value: v }));
            },
            afterFit: (ax: any) => {
              ax.width = AXW;
              ax.paddingTop = 0;
              ax.paddingBottom = 0;
            },
            ticks: {
              autoSkip: false,
              padding: 5,
              color: INK,
              font: { family: FONT, size: 18 },
              callback: (v: any) => (isMajor(Number(v)) ? Number(v).toFixed(p.dec) : ""),
            },
            grid: {
              color: GRID,
              lineWidth: 1,
              drawTicks: true,
              tickLength: 5,
              tickWidth: 1,
              tickColor: (c: any) => (c.tick && isMajor(c.tick.value) ? INK : "rgba(0,0,0,0)"),
            },
            border: { display: false },
          },
        },
      } as any,
      plugins: [borderPlugin],
    });
    return () => chart.destroy();
  }, []);

  return (
    <canvas
      ref={ref}
      width={w}
      height={h}
      style={{ position: "absolute", left: plotLeft - AXW, top: plotTop - PADT, width: w, height: h }}
    />
  );
}

function Title({ p }: { p: PanelDef }) {
  const left = COL_LEFT[p.col];
  const base = TITLE_BASELINES_1[p.row];
  const lines = p.title.length === 1 ? [base] : [base - 21, base];
  return (
    <>
      {p.title.map((t, i) => (
        <div
          key={i}
          style={{
            position: "absolute",
            left,
            width: PLOT_W,
            top: lines[i] - 17.1,
            height: 21,
            lineHeight: "21px",
            textAlign: "center",
            fontFamily: FONT,
            fontWeight: "bold",
            fontSize: 19,
            color: "#111",
            whiteSpace: "nowrap",
          }}
        >
          {t}
        </div>
      ))}
    </>
  );
}

export default function App() {
  return (
    <div
      style={{
        position: "fixed",
        left: 0,
        top: 0,
        width: 1254,
        height: 914,
        overflow: "hidden",
        background: "#ffffff",
      }}
    >
      {panels.map((p, i) => (
        <Panel key={i} p={p} />
      ))}
      {panels.map((p, i) => (
        <Title key={"t" + i} p={p} />
      ))}
      <div
        style={{
          position: "absolute",
          left: 22 - 220,
          top: 438 - 11,
          width: 440,
          height: 22,
          lineHeight: "22px",
          textAlign: "center",
          transform: "rotate(-90deg)",
          transformOrigin: "50% 50%",
          fontFamily: FONT,
          fontSize: 18,
          color: "#222",
          whiteSpace: "nowrap",
        }}
      >
        Tests per 1,000 (7−day rolling average)
      </div>
      <div
        style={{
          position: "absolute",
          left: 403,
          top: 892,
          height: 22,
          display: "flex",
          alignItems: "center",
          gap: 42,
          fontFamily: FONT,
          fontSize: 18,
          color: "#222",
          whiteSpace: "nowrap",
        }}
      >
        {seriesNames.map((n, i) => (
          <div key={n} style={{ display: "flex", alignItems: "center" }}>
            <span style={{ display: "inline-block", width: 16, height: 0, borderTop: `2.5px solid ${seriesColors[i]}`, marginRight: 9 }} />
            <span style={{ lineHeight: "22px" }}>{n}</span>
          </div>
        ))}
      </div>
    </div>
  );
}
